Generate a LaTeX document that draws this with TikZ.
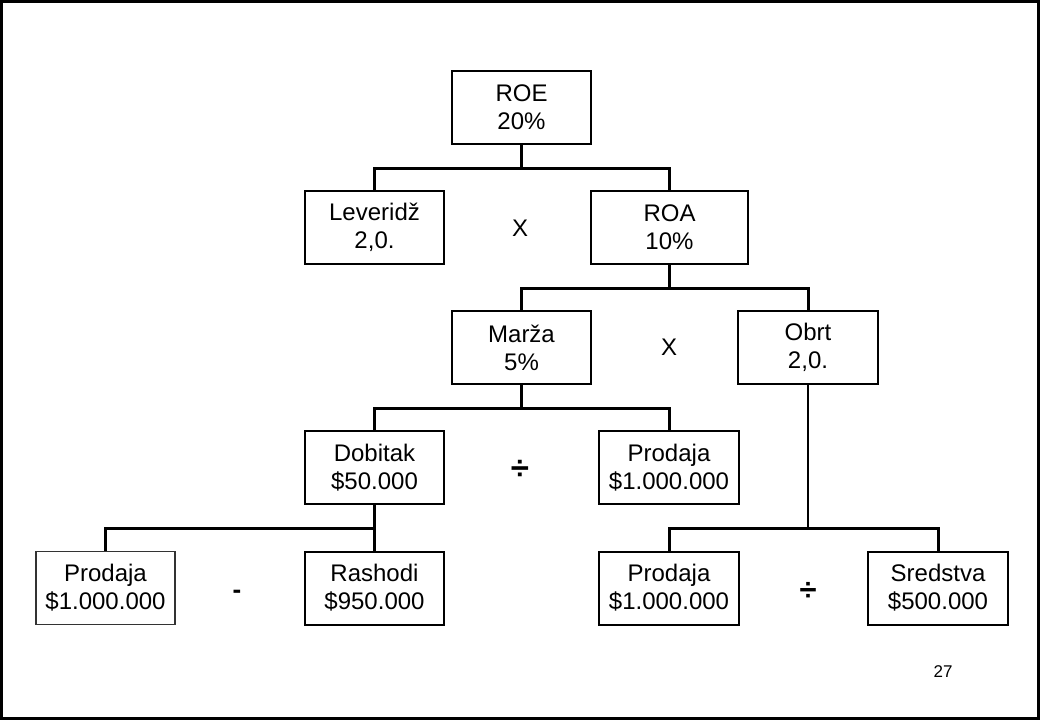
\documentclass[tikz,border=0pt]{standalone}
\usepackage{fontspec}
\setmainfont{Liberation Sans}
\tikzset{
  bx/.style    ={draw, line width=2pt, minimum width=139pt, minimum height=73pt, inner sep=0pt, align=center, font=\fontsize{24}{28}\selectfont},
  thinbx/.style={bx, line width=1.2pt, draw=black!80},
  op/.style    ={inner sep=0pt, font=\fontsize{24}{28}\selectfont},
  bigop/.style ={inner sep=0pt, font=\fontsize{33}{36}\selectfont\bfseries},
  ln/.style    ={line width=3pt},
  thinln/.style={line width=2.2pt}
}
\begin{document}
\begin{tikzpicture}[x=1pt,y=-1pt]
\useasboundingbox (0,0) rectangle (1040,720);
\draw[line width=2.5pt] (1.5,1.5) rectangle (1038.5,718.5);

% level 1-2
\node[bx] (roe) at (521.5,107.5) {ROE\\20\%};
\node[bx] (lev) at (374.5,227.5) {Leveridž\\2,0.};
\node[bx, minimum width=157pt] (roa) at (669.5,227.5) {ROA\\10\%};
\node[op] (x1) at (520,228) {X};

% level 3
\node[bx] (marza) at (521.5,347.5) {Marža\\5\%};
\node[bx, minimum width=140pt] (obrt) at (808,347.5) {Obrt\\2,0.};
\node[op] (x2) at (669,347) {X};

% level 4
\node[bx] (dob) at (374.5,467.5) {Dobitak\\\$50.000};
\node[bx, minimum width=140pt] (prodm) at (669,467.5) {Prodaja\\\$1.000.000};
\node[bigop] (div1) at (520,470) {÷};

% level 5
\node[thinbx] (prodl) at (105.5,588) {Prodaja\\\$1.000.000};
\node[bx] (rash) at (374.5,588) {Rashodi\\\$950.000};
\node[op, font=\fontsize{26}{28}\selectfont\bfseries] (minus) at (237,594) {-};
\node[bx, minimum width=140pt] (prodr) at (669,588) {Prodaja\\\$1.000.000};
\node[bx, minimum width=140pt] (sred) at (938,588) {Sredstva\\\$500.000};
\node[bigop, font=\fontsize{31}{36}\selectfont\bfseries] (div2) at (808,591) {÷};

\node[op, font=\fontsize{17}{20}\selectfont] (pg) at (943,672) {27};

% connectors
\draw[ln] (roe.south) -- ++(0,23) -| (lev.north);
\draw[ln] (roe.south) -- ++(0,23) -| (roa.north);
\draw[ln] (roa.south) -- ++(0,23) -| (marza.north);
\draw[ln] (roa.south) -- ++(0,23) -| (obrt.north);
\draw[ln] (marza.south) -- ++(0,23) -| (dob.north);
\draw[ln] (marza.south) -- ++(0,23) -| (prodm.north);
\draw[ln] (dob.south) -- ++(0,23) -| (prodl.north);
\draw[ln] (dob.south) -- (rash.north);
\draw[thinln] (obrt.south) -- ++(0,143) coordinate (ob);
\draw[ln] (ob) -| (prodr.north);
\draw[ln] (ob) -| (sred.north);
\end{tikzpicture}
\end{document}
